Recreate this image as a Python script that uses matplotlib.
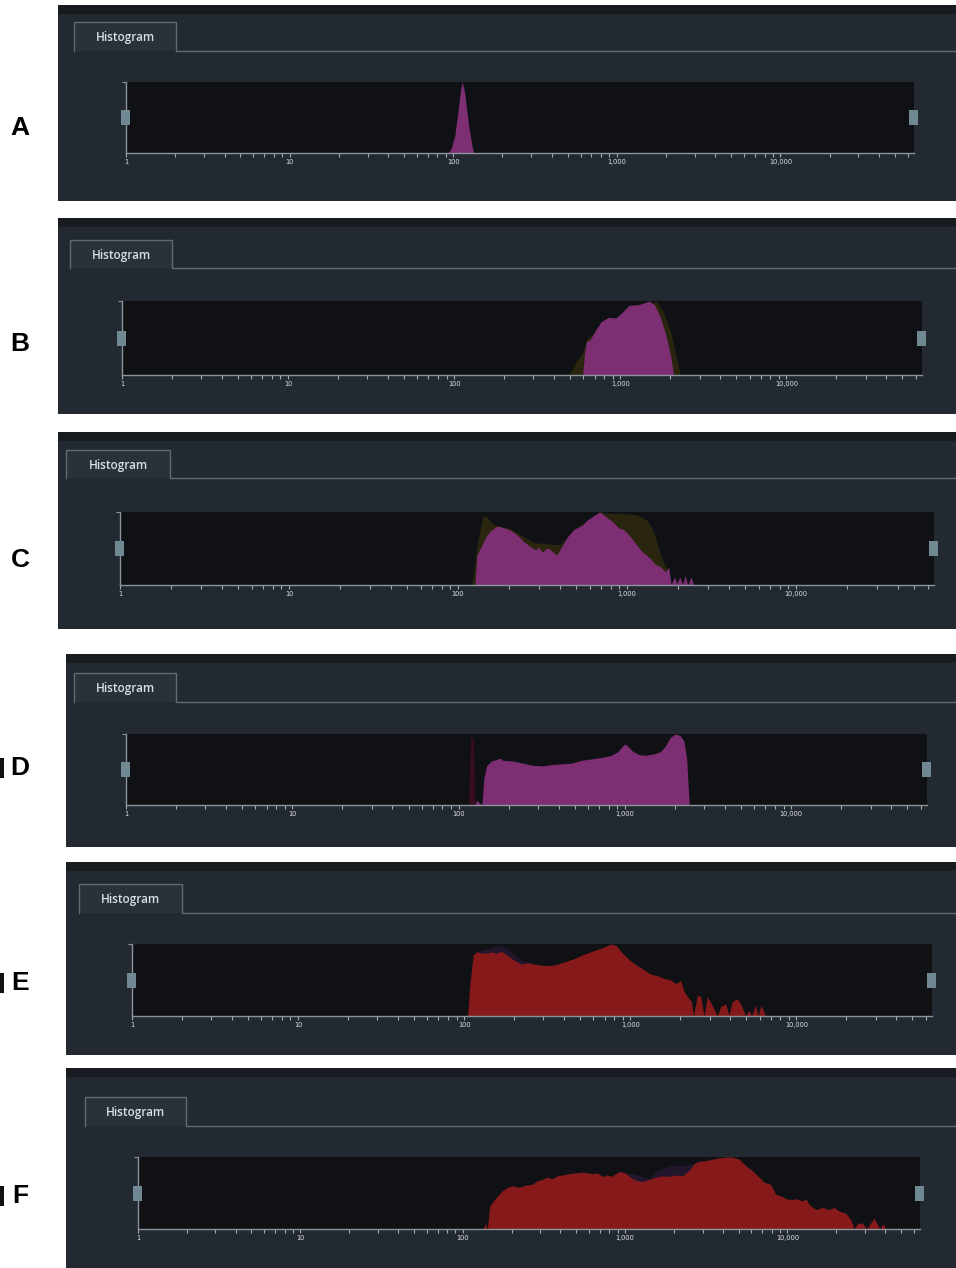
import numpy as np
import matplotlib.pyplot as plt
from matplotlib.patches import Rectangle

W, H = 956, 1268

# histogram outlines: log10(intensity) and count (% of panel max)
a_log = [1.97, 1.99, 2.01, 2.03, 2.045, 2.056, 2.07, 2.085, 2.10, 2.115, 2.125]
a_cnt = [0, 8, 25, 60, 90, 100, 85, 55, 30, 10, 0]

b_log = [2.774, 2.785, 2.796, 2.819, 2.852, 2.885, 2.929, 2.973, 3.018, 3.051, 3.106,
         3.139, 3.173, 3.206, 3.239, 3.272, 3.305, 3.321]
b_cnt = [0, 30, 45, 48, 61, 72, 78, 77, 86, 94, 95, 97, 100, 95, 79, 56, 24, 0]
b_shadow_log = [2.69, 2.74, 2.77, 2.80, 3.0, 3.217, 3.261, 3.305, 3.338, 3.361]
b_shadow_cnt = [0, 20, 29, 50, 80, 100, 84, 56, 24, 0]

c_log = [2.100, 2.112, 2.136, 2.165, 2.195, 2.234, 2.273, 2.313, 2.352, 2.391, 2.431,
         2.460, 2.474, 2.500, 2.529, 2.549, 2.584, 2.608, 2.647, 2.686, 2.736, 2.765,
         2.804, 2.838, 2.873, 2.913, 2.952, 2.981, 3.021, 3.050, 3.080, 3.109, 3.139,
         3.168, 3.198, 3.227, 3.247, 3.261, 3.280, 3.296, 3.312, 3.328, 3.345, 3.359,
         3.379, 3.394]
c_cnt = [0, 41, 52, 66, 75, 81, 78, 75, 68, 59, 52, 48, 52, 45, 51, 48, 41, 50, 66,
         76, 82, 89, 95, 100, 94, 87, 78, 76, 66, 57, 48, 42, 36, 28, 25, 18, 24, 0,
         11, 2, 11, 1, 13, 0, 11, 0]
c_shadow_log = [2.081, 2.116, 2.146, 2.165, 2.195, 2.234, 2.30, 2.45, 2.60, 2.70, 2.838,
                2.883, 2.981, 3.060, 3.119, 3.158, 3.188, 3.217, 3.247, 3.26]
c_shadow_cnt = [0, 59, 93, 95, 86, 81, 78, 58, 55, 78, 100, 98, 98, 96, 89, 73, 50,
                30, 18, 0]

d_log = [2.099, 2.108, 2.124, 2.140, 2.152, 2.168, 2.197, 2.227, 2.247, 2.266, 2.325,
         2.385, 2.444, 2.503, 2.562, 2.621, 2.680, 2.740, 2.799, 2.858, 2.917, 2.957,
         2.986, 3.0, 3.016, 3.045, 3.085, 3.124, 3.174, 3.213, 3.243, 3.272, 3.302,
         3.331, 3.355, 3.371, 3.381, 3.387]
d_cnt = [0, 7, 3, 0, 38, 55, 62, 64, 66, 63, 62, 59, 56, 55, 57, 58, 59, 63, 65, 67,
         70, 75, 83, 86, 83, 76, 71, 70, 72, 75, 83, 95, 100, 98, 90, 66, 24, 0]
d_shadow_log = [2.060, 2.072, 2.088, 2.098]
d_shadow_cnt = [0, 95, 95, 0]

e_log = [2.020, 2.034, 2.054, 2.074, 2.124, 2.164, 2.194, 2.224, 2.264, 2.304, 2.344,
         2.384, 2.424, 2.484, 2.544, 2.604, 2.664, 2.724, 2.784, 2.834, 2.884, 2.914,
         2.954, 2.994, 3.034, 3.084, 3.124, 3.164, 3.204, 3.244, 3.274, 3.304, 3.324,
         3.344, 3.368, 3.380, 3.404, 3.424, 3.444, 3.464, 3.488, 3.524, 3.544, 3.574,
         3.594, 3.614, 3.644, 3.664, 3.694, 3.714, 3.730, 3.754, 3.768, 3.788, 3.814]
e_cnt = [0, 43, 85, 89, 87, 89, 87, 90, 83, 77, 72, 74, 72, 70, 71, 75, 80, 86, 91,
         95, 100, 98, 87, 78, 71, 64, 58, 56, 52, 50, 45, 49, 34, 27, 20, 0, 29, 27, 0,
         27, 17, 0, 13, 17, 1, 20, 24, 17, 0, 8, 0, 15, 0, 15, 0]
e_shadow_log = [2.06, 2.07, 2.12, 2.18, 2.23, 2.28, 2.34, 2.40]
e_shadow_cnt = [0, 89, 92, 97, 98, 90, 78, 74]

f_log = [2.125, 2.138, 2.152, 2.166, 2.183, 2.214, 2.244, 2.275, 2.306, 2.347, 2.388,
         2.429, 2.460, 2.491, 2.522, 2.552, 2.583, 2.614, 2.655, 2.696, 2.737, 2.768,
         2.799, 2.830, 2.860, 2.891, 2.912, 2.942, 2.973, 3.004, 3.045, 3.076, 3.107,
         3.148, 3.189, 3.230, 3.271, 3.312, 3.353, 3.394, 3.425, 3.456, 3.497, 3.538,
         3.579, 3.620, 3.661, 3.702, 3.743, 3.784, 3.825, 3.856, 3.897, 3.928, 3.959,
         3.990, 4.021, 4.051, 4.092, 4.113, 4.133, 4.175, 4.216, 4.257, 4.287, 4.318,
         4.359, 4.390, 4.411, 4.431, 4.462, 4.487, 4.513, 4.534, 4.554, 4.569, 4.589,
         4.606]
f_cnt = [0, 7.5, 0, 32, 37, 46, 53, 58, 60, 58, 61, 62, 67, 69, 72, 70, 74, 75, 77,
         78, 79, 78, 77, 78, 73, 75, 73, 77, 80, 77, 70, 67, 66, 69, 72, 74, 73, 75,
         74, 81, 91, 94, 95, 97, 99, 100, 100, 97, 88, 81, 72, 65, 62, 48, 46, 42, 41,
         42, 39, 42, 34, 27, 30, 27, 30, 25, 22, 13, 0, 7.5, 8.5, 0, 8.5, 15.5, 6, 0,
         7.5, 0]
f_shadow_log = [2.95, 3.05, 3.12, 3.15, 3.20, 3.28, 3.36, 3.42]
f_shadow_cnt = [80, 77, 72, 69, 82, 88, 88, 91]

labels = ['A', 'B', 'C', 'D', 'E', 'F']
series = [(a_log, a_cnt, None, None),
          (b_log, b_cnt, b_shadow_log, b_shadow_cnt),
          (c_log, c_cnt, c_shadow_log, c_shadow_cnt),
          (d_log, d_cnt, d_shadow_log, d_shadow_cnt),
          (e_log, e_cnt, e_shadow_log, e_shadow_cnt),
          (f_log, f_cnt, f_shadow_log, f_shadow_cnt)]

major_ticks = [1, 10, 100, 1000, 10000]
major_labels = ['1', '10', '100', '1,000', '10,000']
x_max = 65536

# layout in pixels: panel box, tab, plot area
layout = [
    dict(box=(58, 5, 956, 201), tab=(74, 22, 176, 51), plot=(126, 82, 914, 153), ly=128, bar=False),
    dict(box=(58, 218, 956, 414), tab=(70, 240, 172, 268), plot=(122, 301, 922, 375), ly=344, bar=False),
    dict(box=(58, 432, 956, 629), tab=(66, 450, 170, 478), plot=(120, 512, 934, 585), ly=560, bar=False),
    dict(box=(66, 654, 956, 847), tab=(74, 673, 176, 702), plot=(126, 734, 927, 805), ly=768, bar=True),
    dict(box=(66, 862, 956, 1055), tab=(79, 884, 182, 913), plot=(132, 944, 932, 1016), ly=983, bar=True),
    dict(box=(66, 1068, 956, 1268), tab=(85, 1097, 186, 1126), plot=(138, 1157, 920, 1229), ly=1196, bar=True),
]
fill_colors = ['#7e2f73', '#7e2f73', '#7e2f73', '#7e2f73', '#86191a', '#86191a']
shadow_colors = [None, '#29250f', '#29250f', '#3a0d1d', '#22162c', '#22162c']

panel_bg = '#232930'
plot_bg = '#0f1115'
axis_col = '#8c949b'
handle_col = '#6f8892'

fig = plt.figure(figsize=(W / 100, H / 100), dpi=100)
fig.patch.set_facecolor('white')

bg = fig.add_axes([0, 0, 1, 1])
bg.set_xlim(0, W)
bg.set_ylim(H, 0)
bg.axis('off')

for i, lay in enumerate(layout):
    x0, y0, x1, y1 = lay['box']
    bg.add_patch(Rectangle((x0, y0), x1 - x0, y1 - y0, facecolor=panel_bg, edgecolor='none'))
    bg.add_patch(Rectangle((x0, y0), x1 - x0, 9, facecolor='#181b20', edgecolor='none'))
    tx0, ty0, tx1, ty1 = lay['tab']
    bg.add_patch(Rectangle((tx0, ty0), tx1 - tx0, ty1 - ty0, facecolor='#2a3139', edgecolor='none'))
    bg.plot([tx0, tx0, tx1, tx1, x1], [ty1, ty0, ty0, ty1, ty1], color='#5f6a74', lw=1.0)
    bg.text((tx0 + tx1) / 2, (ty0 + ty1) / 2 + 1, 'Histogram', color='#d3e2e8', fontsize=8.5,
            family='Open Sans', fontweight='semibold', ha='center', va='center')
    bg.text(20, lay['ly'], labels[i], color='black', fontsize=19, fontweight='bold',
            family='Liberation Sans', ha='center', va='center')
    if lay['bar']:
        bg.add_patch(Rectangle((0, lay['ly'] - 10), 4, 20, facecolor='#111', edgecolor='none'))

    px0, py0, px1, py1 = lay['plot']
    ax = fig.add_axes([px0 / W, 1 - py1 / H, (px1 - px0) / W, (py1 - py0) / H])
    ax.set_facecolor(plot_bg)
    ax.set_xscale('log')
    ax.set_xlim(1, x_max)
    ax.set_ylim(0, 100)

    lg, cnt, slg, scnt = series[i]
    if slg is not None:
        ax.fill_between(np.power(10.0, slg), scnt, color=shadow_colors[i], lw=0, zorder=1)
    ax.fill_between(np.power(10.0, lg), cnt, color=fill_colors[i], lw=0, zorder=2)

    for side in ['top', 'right']:
        ax.spines[side].set_visible(False)
    for side in ['bottom', 'left']:
        ax.spines[side].set_color(axis_col)
        ax.spines[side].set_linewidth(1.0)

    ax.set_xticks(major_ticks)
    ax.set_xticklabels(major_labels)
    minor = [m * 10 ** d for d in range(5) for m in range(2, 10) if m * 10 ** d < x_max]
    ax.set_xticks(minor, minor=True)
    ax.xaxis.set_minor_formatter(plt.NullFormatter())
    ax.tick_params(axis='x', which='both', direction='out', length=3, width=0.8,
                   color='#a4abb1', labelsize=4.8, labelcolor='#dde1e4', pad=1.5)
    ax.set_yticks([100])
    ax.set_yticklabels([])
    ax.tick_params(axis='y', direction='out', length=3, width=0.8, color=axis_col)

# slider handles sit above the plot axes
top = fig.add_axes([0, 0, 1, 1])
top.set_xlim(0, W)
top.set_ylim(H, 0)
top.axis('off')
top.patch.set_alpha(0)
for lay in layout:
    px0, py0, px1, py1 = lay['plot']
    hy = (py0 + py1) / 2
    for hx in [px0, px1]:
        top.add_patch(Rectangle((hx - 4.5, hy - 7.5), 9, 15, facecolor=handle_col, edgecolor='none'))

fig.savefig('out.png', dpi=100, facecolor='white')
